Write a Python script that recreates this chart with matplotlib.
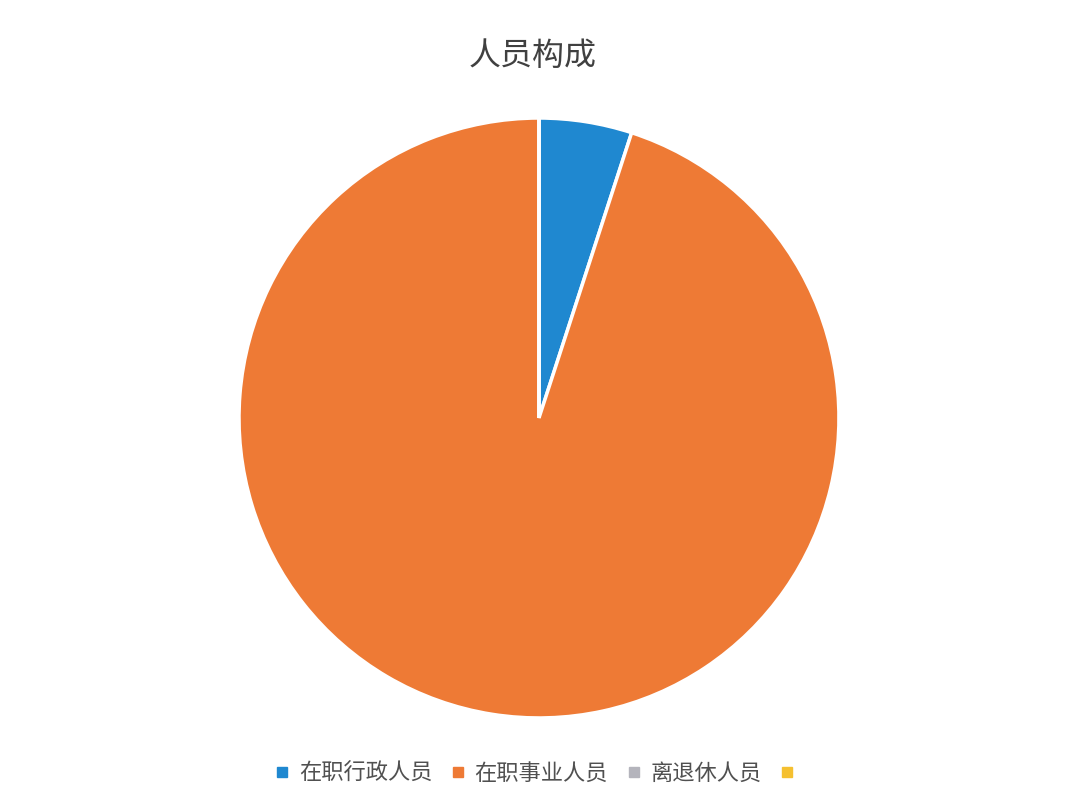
import matplotlib.pyplot as plt
from matplotlib.lines import Line2D

plt.rcParams['font.family'] = ['Noto Sans CJK SC', 'DejaVu Sans']

labels = ['在职行政人员', '在职事业人员', '离退休人员', '']
values = [5, 95, 0, 0]
colors = ['#1f88d0', '#ee7a35', '#b4b4bc', '#f5c030']

fig = plt.figure(figsize=(10.66, 8.07), dpi=100)
ax = fig.add_axes([0.5056 - 0.2814, 0.482 - 0.3717, 0.5628, 0.7435])

ax.pie(values, colors=colors, startangle=90, counterclock=False,
       wedgeprops=dict(edgecolor='white', linewidth=2.5))
ax.set_xlim(-1.0, 1.0)
ax.set_ylim(-1.0, 1.0)
ax.set_aspect('equal')

fig.suptitle('人员构成', y=0.95, fontsize=23, color='#404040',
             fontweight='light')

handles = [Line2D([], [], marker='s', linestyle='', markersize=7,
                  markerfacecolor=c, markeredgecolor=c) for c in colors]
fig.legend(handles, labels, loc='center', bbox_to_anchor=(0.503, 0.042),
           ncol=4, frameon=False, fontsize=16, handletextpad=0.15,
           handlelength=1.2, columnspacing=0.55, labelcolor='#505050')

fig.savefig('out.png', dpi=100)
